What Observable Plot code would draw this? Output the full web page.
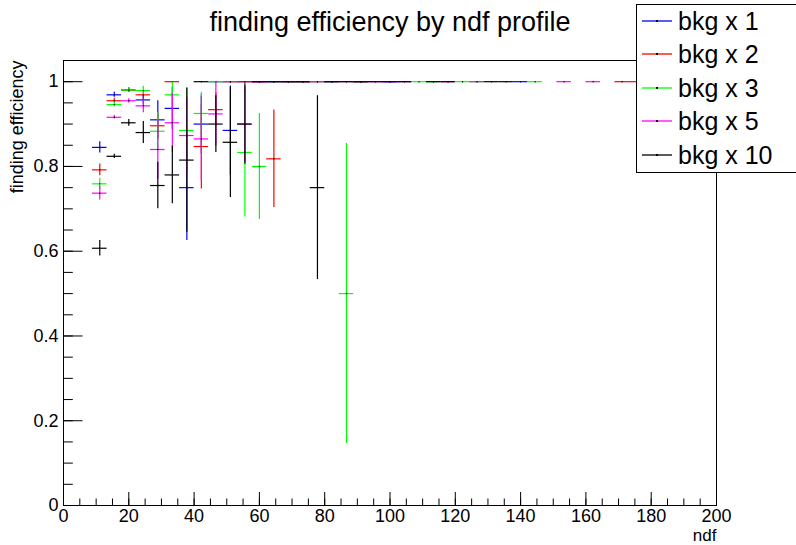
<!DOCTYPE html>
<html>
<head>
<meta charset="utf-8">
<script src="https://cdn.jsdelivr.net/npm/d3@7"></script>
<script src="https://cdn.jsdelivr.net/npm/@observablehq/plot@0.6"></script>
<style>
  html, body { margin: 0; padding: 0; background: #fff; }
  #wrap { position: relative; width: 796px; height: 545px; font-family: "Liberation Sans", Arial, Helvetica, sans-serif; }
  #legend { position: absolute; left: 636px; top: 4px; width: 159px; height: 167px; background: #fff; border: 1px solid #000; box-sizing: content-box; }
  .entry { position: absolute; left: 0; height: 32px; display: flex; align-items: center; }
  .entry svg { display: block; margin-left: 5px; margin-right: 6px; }
  .lab { font-size: 25px; color: #000; white-space: nowrap; line-height: 32px; }
</style>
</head>
<body>
<div id="wrap"><div id="legend"></div></div>
<script>
// ---- data (TProfile: 45 bins on ndf in [0, 200]) ----
const xMin = 0, xMax = 200, nBins = 45;
const seriesNames = ["bkg x 1", "bkg x 2", "bkg x 3", "bkg x 5", "bkg x 10"];
const seriesColors = ["#0000ff", "#ff0000", "#00ff00", "#ff00ff", "#000000"];

const bkg1Bins = [2, 3, 4, 5, 6, 7, 8, 9, 10, 11, 12, 13, 14, 15, 16, 18, 20, 22, 31];
const bkg1Eff  = [0.845, 0.969, 0.98, 0.957, 0.91, 0.937, 0.75, 0.9, 1, 0.885, 1, 1, 1, 1, 1, 1, 1, 1, 1];
const bkg1Err  = [0.013, 0.006, 0.005, 0.012, 0.045, 0.05, 0.125, 0.07, 0, 0.105, 0, 0, 0, 0, 0, 0, 0, 0, 0];

const bkg2Bins = [2, 3, 4, 5, 6, 7, 9, 10, 11, 12, 13, 14, 15, 16, 17, 20, 38, 39];
const bkg2Eff  = [0.792, 0.955, 0.98, 0.969, 0.896, 1, 0.847, 0.934, 1, 1, 1, 0.818, 1, 1, 1, 1, 1, 1];
const bkg2Err  = [0.014, 0.006, 0.005, 0.01, 0.03, 0, 0.1, 0.04, 0, 0, 0, 0.115, 0, 0, 0, 0, 0, 0];

const bkg3Bins = [2, 3, 4, 5, 6, 7, 8, 9, 10, 11, 12, 13, 14, 15, 16, 17, 18, 19, 20, 24, 25, 27, 28, 32];
const bkg3Eff  = [0.759, 0.946, 0.98, 0.979, 0.883, 0.969, 0.885, 0.925, 1, 1, 0.833, 0.8, 1, 1, 1, 1, 1, 0.5, 1, 1, 1, 1, 1, 1];
const bkg3Err  = [0.013, 0.006, 0.005, 0.01, 0.045, 0.03, 0.1, 0.05, 0, 0, 0.152, 0.125, 0, 0, 0, 0, 0, 0.354, 0, 0, 0, 0, 0, 0];

const bkg5Bins = [2, 3, 4, 5, 6, 7, 8, 9, 10, 11, 12, 13, 14, 15, 16, 17, 18, 19, 20, 21, 22, 23, 26, 28, 34, 36];
const bkg5Eff  = [0.737, 0.916, 0.955, 0.943, 0.84, 0.903, 0.873, 0.865, 0.924, 1, 0.9, 1, 1, 1, 1, 1, 1, 1, 1, 1, 1, 1, 1, 1, 1, 1];
const bkg5Err  = [0.016, 0.004, 0.005, 0.016, 0.07, 0.07, 0.09, 0.1, 0.076, 0, 0.09, 0, 0, 0, 0, 0, 0, 0, 0, 0, 0, 0, 0, 0, 0, 0];

const bkg10Bins = [2, 3, 4, 5, 6, 7, 8, 9, 10, 11, 12, 13, 14, 15, 16, 17, 18, 19, 20, 21, 22, 23, 25, 26, 29, 30];
const bkg10Eff  = [0.607, 0.824, 0.903, 0.88, 0.755, 0.78, 0.815, 1, 0.9, 0.857, 0.9, 1, 1, 1, 1, 0.75, 1, 1, 1, 1, 1, 1, 1, 1, 1, 1];
const bkg10Err  = [0.018, 0.005, 0.008, 0.026, 0.055, 0.068, 0.17, 0, 0.067, 0.13, 0.095, 0, 0, 0, 0, 0.217, 0, 0, 0, 0, 0, 0, 0, 0, 0, 0];

const xTicks = [0, 20, 40, 60, 80, 100, 120, 140, 160, 180, 200];
const xTickLabels = ["0", "20", "40", "60", "80", "100", "120", "140", "160", "180", "200"];
const xMinorTicks = d3.range(0, 201, 5);
const yTicks = [0, 0.2, 0.4, 0.6, 0.8, 1];
const yTickLabels = ["0", "0.2", "0.4", "0.6", "0.8", "1"];
const yMinorTicks = d3.range(0, 22).map(i => i * 0.05);

const titleText = "finding efficiency by ndf profile";
const xLabel = "ndf";
const yLabel = "finding efficiency";

// ---- build rows ----
const binW = (xMax - xMin) / nBins;
const seriesData = [
  [bkg1Bins, bkg1Eff, bkg1Err],
  [bkg2Bins, bkg2Eff, bkg2Err],
  [bkg3Bins, bkg3Eff, bkg3Err],
  [bkg5Bins, bkg5Eff, bkg5Err],
  [bkg10Bins, bkg10Eff, bkg10Err]
].map(([bins, eff, err], s) => bins.map((b, i) => ({
  series: seriesNames[s],
  lo: xMin + b * binW,
  hi: xMin + (b + 1) * binW,
  c: xMin + (b + 0.5) * binW,
  eff: eff[i],
  err: err[i]
})));

const W = 796, H = 545, mL = 63, mR = 80, mT = 60, mB = 40;
const frameW = W - mL - mR, frameH = H - mT - mB;

const marks = [];
seriesData.forEach((rows, s) => {
  const col = seriesColors[s];
  marks.push(Plot.ruleY(rows, {y: "eff", x1: "lo", x2: "hi", stroke: col, strokeWidth: 1.2}));
  marks.push(Plot.ruleX(rows.filter(d => d.err > 0), {x: "c", y1: d => d.eff - d.err, y2: d => d.eff + d.err, stroke: col, strokeWidth: 1.2}));
  marks.push(Plot.dot(rows, {x: "c", y: "eff", r: 0.7, fill: "#000", stroke: null}));
});

const chart = Plot.plot({
  width: W, height: H,
  marginLeft: mL, marginRight: mR, marginTop: mT, marginBottom: mB,
  style: {fontFamily: '"Liberation Sans", Arial, Helvetica, sans-serif', fontSize: "18px", color: "#000", background: "#fff", overflow: "visible"},
  x: {domain: [xMin, xMax]},
  y: {domain: [0, 1.05]},
  marks: [
    ...marks,
    Plot.frame({stroke: "#000", strokeWidth: 1}),
    // inward ROOT-style ticks
    Plot.tickX(xTicks, {x: d => d, insetTop: frameH - 13, stroke: "#000"}),
    Plot.tickX(xMinorTicks, {x: d => d, insetTop: frameH - 6.5, stroke: "#000"}),
    Plot.tickY(yTicks, {y: d => d, insetRight: frameW - 19.5, stroke: "#000"}),
    Plot.tickY(yMinorTicks, {y: d => d, insetRight: frameW - 9.8, stroke: "#000"}),
    Plot.axisX(xTicks, {tickSize: 0, tickPadding: 4, fontSize: 18, label: null, tickFormat: (d, i) => xTickLabels[i]}),
    Plot.axisY(yTicks, {tickSize: 0, tickPadding: 5, fontSize: 18, label: null, tickFormat: (d, i) => yTickLabels[i]}),
    Plot.text([titleText], {frameAnchor: "top", dy: -30, lineAnchor: "bottom", fontSize: 27, fill: "#000"}),
    Plot.text([xLabel], {frameAnchor: "bottom-right", textAnchor: "end", lineAnchor: "bottom", dy: 35, fontSize: 17, fill: "#000"}),
    Plot.text([yLabel], {frameAnchor: "top-left", textAnchor: "end", lineAnchor: "middle", rotate: -90, dx: -46, fontSize: 18, fill: "#000"})
  ]
});
const wrap = document.getElementById("wrap");
wrap.insertBefore(chart, wrap.firstChild);

// legend
const legend = document.getElementById("legend");
seriesNames.forEach((name, i) => {
  const e = document.createElement("div");
  e.className = "entry";
  e.style.top = (0 + i * 33.4) + "px";
  e.innerHTML = `<svg width="30" height="6"><line x1="0" x2="30" y1="3" y2="3" stroke="${seriesColors[i]}" stroke-width="1.3"></line><rect x="14" y="2" width="2" height="2" fill="#000"></rect></svg><span class="lab">${name}</span>`;
  legend.appendChild(e);
});
</script>
</body>
</html>
